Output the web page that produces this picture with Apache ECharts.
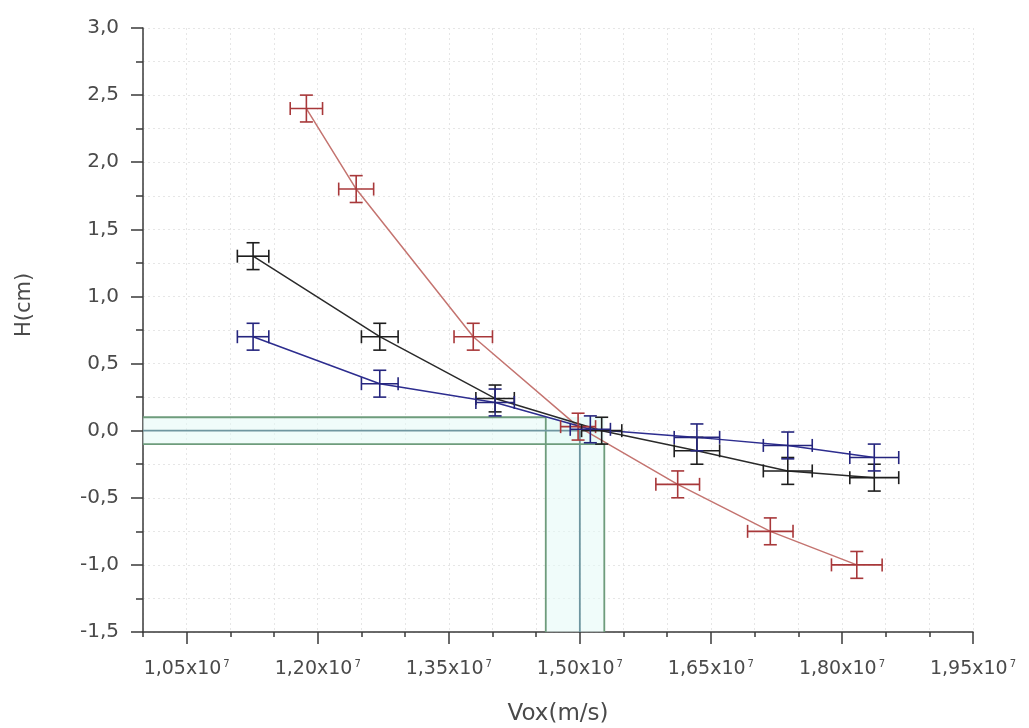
<!DOCTYPE html>
<html>
<head>
<meta charset="utf-8">
<script src="https://cdn.jsdelivr.net/npm/echarts@6/dist/echarts.min.js"></script>
<style>html,body{margin:0;padding:0;background:#fff}#c{width:1029px;height:728px}</style>
</head>
<body>
<div id="c"></div>
<script>
// ---- data ----
const redX    = [1.187e7, 1.244e7, 1.378e7, 1.498e7, 1.612e7, 1.718e7, 1.817e7];
const redY    = [2.4, 1.8, 0.7, 0.03, -0.4, -0.75, -1.0];
const redXErr = [0.0185e7, 0.020e7, 0.022e7, 0.020e7, 0.025e7, 0.026e7, 0.029e7];
const redYErr = [0.1, 0.1, 0.1, 0.1, 0.1, 0.1, 0.1];

const blackX    = [1.126e7, 1.271e7, 1.403e7, 1.525e7, 1.634e7, 1.738e7, 1.837e7];
const blackY    = [1.3, 0.7, 0.24, 0.0, -0.15, -0.3, -0.35];
const blackXErr = [0.018e7, 0.021e7, 0.022e7, 0.023e7, 0.026e7, 0.028e7, 0.028e7];
const blackYErr = [0.1, 0.1, 0.1, 0.1, 0.1, 0.1, 0.1];

const blueX    = [1.126e7, 1.271e7, 1.403e7, 1.512e7, 1.634e7, 1.738e7, 1.837e7];
const blueY    = [0.7, 0.35, 0.21, 0.01, -0.05, -0.11, -0.2];
const blueXErr = [0.018e7, 0.021e7, 0.022e7, 0.023e7, 0.026e7, 0.028e7, 0.028e7];
const blueYErr = [0.1, 0.1, 0.1, 0.1, 0.1, 0.1, 0.1];

// guide lines (H level -> Vox intercept)
const guideY = [0.1, 0.0, -0.1];
const guideX = [1.461e7, 1.50e7, 1.528e7];

const xTickValues = [1.05e7, 1.20e7, 1.35e7, 1.50e7, 1.65e7, 1.80e7, 1.95e7];
const xMin = 1.0e7, xMax = 1.95e7, xMinorStep = 0.05e7;
const yMin = -1.5, yMax = 3.0, yStep = 0.5;
const xName = 'Vox(m/s)';
const yName = 'H(cm)';

// ---- chart ----
const chart = echarts.init(document.getElementById('c'), null, {renderer: 'canvas'});
const FONT = '"DejaVu Sans", "Liberation Sans", sans-serif';
const txtColor = '#4a4a4a';
const axisColor = '#3a3a3a';
const gridLine = {show: true, lineStyle: {color: '#e6e6e6', type: [2, 3], width: 1}};

function pts(xs, ys) { return xs.map((x, i) => [x, ys[i]]); }
function errData(xs, ys, xe, ye) { return xs.map((x, i) => [x, ys[i], xe[i], ye[i]]); }

function errRender(color) {
  return function (params, api) {
    const x = api.value(0), y = api.value(1), dx = api.value(2), dy = api.value(3);
    const c = api.coord([x, y]);
    const l = api.coord([x - dx, y]), r = api.coord([x + dx, y]);
    const t = api.coord([x, y + dy]), b = api.coord([x, y - dy]);
    const cap = 6.5;
    const style = {stroke: color, lineWidth: 1.6};
    const line = (x1, y1, x2, y2) => ({type: 'line', shape: {x1, y1, x2, y2}, style});
    return {type: 'group', children: [
      line(l[0], c[1], r[0], c[1]),
      line(l[0], c[1] - cap, l[0], c[1] + cap),
      line(r[0], c[1] - cap, r[0], c[1] + cap),
      line(c[0], t[1], c[0], b[1]),
      line(c[0] - cap, t[1], c[0] + cap, t[1]),
      line(c[0] - cap, b[1], c[0] + cap, b[1])
    ]};
  };
}

const guideSeries = guideY.map((gy, i) => ({
  type: 'line', xAxisIndex: 0, yAxisIndex: 0, silent: true, symbol: 'none', z: 1,
  lineStyle: {color: i === 1 ? '#6f96a0' : '#6e9c7c', width: 1.8},
  data: [[xMin, gy], [guideX[i], gy], [guideX[i], yMin]],
  markArea: i === 0 ? {
    silent: true,
    itemStyle: {color: 'rgba(228,249,246,0.55)'},
    data: [
      [{coord: [xMin, guideY[2]]}, {coord: [guideX[2], guideY[0]]}],
      [{coord: [guideX[0], yMin]}, {coord: [guideX[2], guideY[0]]}]
    ]
  } : undefined
}));

const option = {
  backgroundColor: '#ffffff',
  animation: false,
  grid: {left: 143, right: 56, top: 28, bottom: 96, outerBoundsMode: 'none', containLabel: false},
  xAxis: [{
    type: 'value', min: xMin, max: xMax, interval: xMinorStep,
    name: xName, nameLocation: 'middle', nameGap: 71,
    nameTextStyle: {fontFamily: FONT, fontSize: 23, color: txtColor},
    axisLine: {show: true, onZero: false, lineStyle: {color: axisColor, width: 1.5}},
    axisTick: {show: true, length: 5, lineStyle: {color: axisColor, width: 1.5}},
    splitLine: gridLine,
    axisLabel: {
      customValues: xTickValues, margin: 27,
      fontFamily: FONT, fontSize: 19, color: txtColor,
      formatter: v => (v / 1e7).toFixed(2).replace('.', ',') + 'x10{s|7}',
      rich: {s: {fontFamily: FONT, fontSize: 10, color: txtColor, verticalAlign: 'top', padding: [0, 0, 10, 2]}}
    }
  }, {
    type: 'value', min: xMin, max: xMax, position: 'bottom', gridIndex: 0,
    axisLine: {show: false, onZero: false},
    axisTick: {show: true, customValues: xTickValues, length: 12, lineStyle: {color: axisColor, width: 1.5}},
    axisLabel: {show: false}, splitLine: {show: false}
  }],
  yAxis: [{
    type: 'value', min: yMin, max: yMax, interval: yStep,
    name: yName, nameLocation: 'middle', nameGap: 108, nameRotate: 90,
    nameTextStyle: {fontFamily: FONT, fontSize: 21, color: txtColor, padding: [0, 0, 0, 50]},
    axisLine: {show: true, onZero: false, lineStyle: {color: axisColor, width: 1.5}},
    axisTick: {show: true, length: 12, lineStyle: {color: axisColor, width: 1.5}},
    minorTick: {show: true, splitNumber: 2, length: 7, lineStyle: {color: axisColor, width: 1.5}},
    splitLine: gridLine,
    minorSplitLine: gridLine,
    axisLabel: {
      margin: 24, fontFamily: FONT, fontSize: 20, color: txtColor,
      formatter: v => v.toFixed(1).replace('.', ',')
    }
  }],
  series: [
    ...guideSeries,
    {type: 'line', symbol: 'none', z: 3, lineStyle: {color: '#c47470', width: 1.5}, data: pts(redX, redY)},
    {type: 'line', symbol: 'none', z: 3, lineStyle: {color: '#2a2a2a', width: 1.5}, data: pts(blackX, blackY)},
    {type: 'line', symbol: 'none', z: 3, lineStyle: {color: '#2d2d8f', width: 1.5}, data: pts(blueX, blueY)},
    {type: 'custom', z: 4, renderItem: errRender('#a8383a'), encode: {x: 0, y: 1}, data: errData(redX, redY, redXErr, redYErr)},
    {type: 'custom', z: 4, renderItem: errRender('#1e1e1e'), encode: {x: 0, y: 1}, data: errData(blackX, blackY, blackXErr, blackYErr)},
    {type: 'custom', z: 4, renderItem: errRender('#25257e'), encode: {x: 0, y: 1}, data: errData(blueX, blueY, blueXErr, blueYErr)}
  ]
};
chart.setOption(option);
</script>
</body>
</html>
